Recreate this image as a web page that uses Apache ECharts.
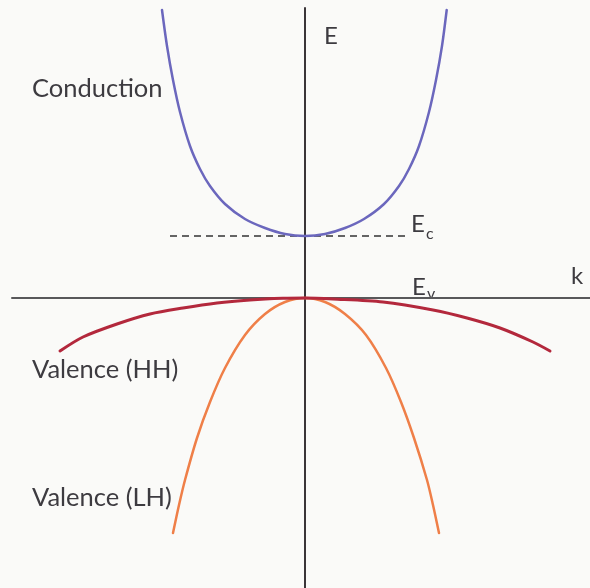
<!DOCTYPE html>
<html>
<head>
<meta charset="utf-8">
<title>E–k band diagram</title>
<script src="https://cdn.jsdelivr.net/npm/echarts@6/dist/echarts.min.js"></script>
<style>
  html, body { margin: 0; padding: 0; background: #fafaf8; }
  #chart { width: 590px; height: 588px; }
</style>
</head>
<body>
<div id="chart"></div>
<script>
// Wave vector k and energy E (arbitrary units, E = 0 at the valence band edge)
const conductionK = [-1.43, -1.38, -1.32, -1.25, -1.15, -1.05, -0.95, -0.80, -0.60, -0.40, -0.20, 0,
                     0.20, 0.40, 0.59, 0.79, 0.94, 1.04, 1.14, 1.24, 1.31, 1.37, 1.417];
const conductionE = [2.88, 2.52, 2.18, 1.86, 1.52, 1.29, 1.12, 0.94, 0.79, 0.70, 0.64, 0.62,
                     0.64, 0.70, 0.79, 0.94, 1.12, 1.29, 1.52, 1.86, 2.18, 2.52, 2.88];

const heavyHoleK = [-2.45, -2.22, -1.88, -1.55, -1.22, -0.88, -0.55, -0.22, 0,
                    0.28, 0.78, 1.28, 1.62, 1.95, 2.28, 2.45];
const heavyHoleE = [-0.53, -0.39, -0.26, -0.16, -0.10, -0.05, -0.02, -0.003, 0,
                    -0.01, -0.04, -0.12, -0.20, -0.30, -0.44, -0.53];

const lightHoleK = [-1.32, -1.26, -1.20, -1.08, -0.95, -0.80, -0.60, -0.40, -0.20, 0,
                    0.20, 0.40, 0.61, 0.81, 0.96, 1.09, 1.22, 1.28, 1.34];
const lightHoleE = [-2.35, -2.07, -1.82, -1.40, -1.04, -0.70, -0.37, -0.16, -0.04, 0,
                    -0.04, -0.16, -0.37, -0.70, -1.04, -1.40, -1.82, -2.07, -2.35];

// Conduction band edge Ec, drawn as a dashed level
const edgeCK = [-1.35, 1.05];
const edgeCE = 0.62;

const zip = (ks, es) => ks.map((k, i) => [k, es[i]]);

const chart = echarts.init(document.getElementById('chart'), null, { renderer: 'canvas' });

const labelFont = 'Lato, "Open Sans", sans-serif';
const textColor = '#3d3b40';

const lineSeries = (name, data, color, width) => ({
  name,
  type: 'line',
  data,
  smooth: 0.3,
  showSymbol: false,
  lineStyle: { color, width, cap: 'round' },
  silent: true,
  animation: false
});

chart.setOption({
  backgroundColor: '#fafaf8',
  animation: false,
  grid: { left: 12, right: 0, top: 8, bottom: 0 },
  xAxis: {
    type: 'value',
    min: -2.93,
    max: 2.85,
    axisLine: { onZero: true, lineStyle: { color: '#58585a', width: 2 } },
    axisTick: { show: false },
    axisLabel: { show: false },
    splitLine: { show: false }
  },
  yAxis: {
    type: 'value',
    min: -2.9,
    max: 2.9,
    axisLine: { onZero: true, lineStyle: { color: '#3a3538', width: 2 } },
    axisTick: { show: false },
    axisLabel: { show: false },
    splitLine: { show: false }
  },
  series: [
    {
      name: 'Ec',
      type: 'line',
      data: edgeCK.map(k => [k, edgeCE]),
      showSymbol: false,
      lineStyle: { color: '#333333', width: 1.5, type: [7, 5] },
      silent: true
    },
    lineSeries('Conduction', zip(conductionK, conductionE), '#6b67bd', 2.5),
    lineSeries('Valence (LH)', zip(lightHoleK, lightHoleE), '#ef7f48', 2.5),
    lineSeries('Valence (HH)', zip(heavyHoleK, heavyHoleE), '#b3283c', 3)
  ],
  graphic: [
    { type: 'text', left: 32, top: 76, style: { text: 'Conduction', font: '25.5px ' + labelFont, fill: textColor } },
    { type: 'text', left: 32, top: 357, style: { text: 'Valence (HH)', font: '25.5px ' + labelFont, fill: textColor } },
    { type: 'text', left: 32, top: 485, style: { text: 'Valence (LH)', font: '25.5px ' + labelFont, fill: textColor } },
    { type: 'text', left: 324, top: 24, style: { text: 'E', font: '24px ' + labelFont, fill: textColor } },
    { type: 'text', left: 571, top: 264, style: { text: 'k', font: '24px ' + labelFont, fill: textColor } },
    { type: 'text', left: 411, top: 212, style: { text: 'E', font: '24px ' + labelFont, fill: textColor } },
    { type: 'text', left: 426, top: 226, style: { text: 'c', font: '16px ' + labelFont, fill: textColor } },
    { type: 'text', left: 412, top: 275, style: { text: 'E', font: '24px ' + labelFont, fill: textColor } },
    { type: 'text', left: 427, top: 286, style: { text: 'v', font: '16px ' + labelFont, fill: textColor } }
  ]
});
</script>
</body>
</html>
